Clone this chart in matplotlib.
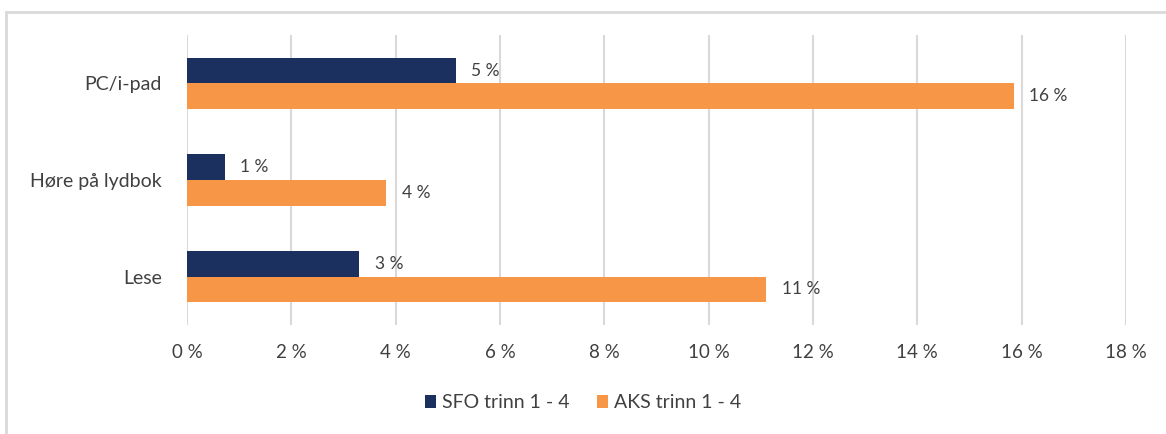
import matplotlib.pyplot as plt
from matplotlib.patches import Rectangle
import numpy as np

# kategorier og verdier (prosent)
kategorier = ['PC/i-pad', 'Høre på lydbok', 'Lese']
sfo = [5.15, 0.72, 3.3]
aks = [15.85, 3.82, 11.1]
serier = ['SFO trinn 1 - 4', 'AKS trinn 1 - 4']
ticks = [0, 2, 4, 6, 8, 10, 12, 14, 16, 18]

plt.rcParams['font.family'] = ['Lato', 'DejaVu Sans']
tekst = '#404040'

fig = plt.figure(figsize=(11.66, 4.34), dpi=100)
ax = fig.add_axes([187/1166, 1-325/434, (1126-187)/1166, (325-35)/434])

y = np.arange(len(kategorier))
h = 0.265
b1 = ax.barh(y - h/2, sfo, height=h, color='#1b305e', label=serier[0], zorder=3)
b2 = ax.barh(y + h/2, aks, height=h, color='#f79646', label=serier[1], zorder=3)

for bars, vals in [(b1, sfo), (b2, aks)]:
    for b, v in zip(bars, vals):
        ax.text(v + 0.3, b.get_y() + b.get_height()/2, f'{round(v)} %',
                va='center', ha='left', fontsize=12.5, color=tekst)

ax.set_xlim(0, 18)
ax.set_ylim(2.5, -0.5)
ax.set_xticks(ticks)
ax.set_xticklabels([f'{t} %' for t in ticks])
ax.set_yticks(y)
ax.set_yticklabels(kategorier)
ax.tick_params(axis='both', length=0, labelsize=13.5, colors=tekst)
ax.tick_params(axis='x', pad=14)
ax.tick_params(axis='y', labelsize=14, pad=18)
ax.grid(axis='x', color='#d9d9d9', linewidth=1.5, zorder=0)
for s in ax.spines.values():
    s.set_visible(False)

leg = fig.legend(handles=[b1, b2], loc='center', bbox_to_anchor=(0.5, 1-403/434),
                 ncol=2, frameon=False, fontsize=14, handlelength=0.6, handleheight=0.6,
                 columnspacing=1.4, handletextpad=0.3)
for t in leg.get_texts():
    t.set_color(tekst)

# ramme rundt (bare topp og venstre synlig)
fig.add_artist(Rectangle((6/1166, -0.1), 1.2, 1 - 12/434 + 0.1, transform=fig.transFigure,
                         fill=False, edgecolor='#d9d9d9', linewidth=2))

fig.savefig('out.png', dpi=100)
